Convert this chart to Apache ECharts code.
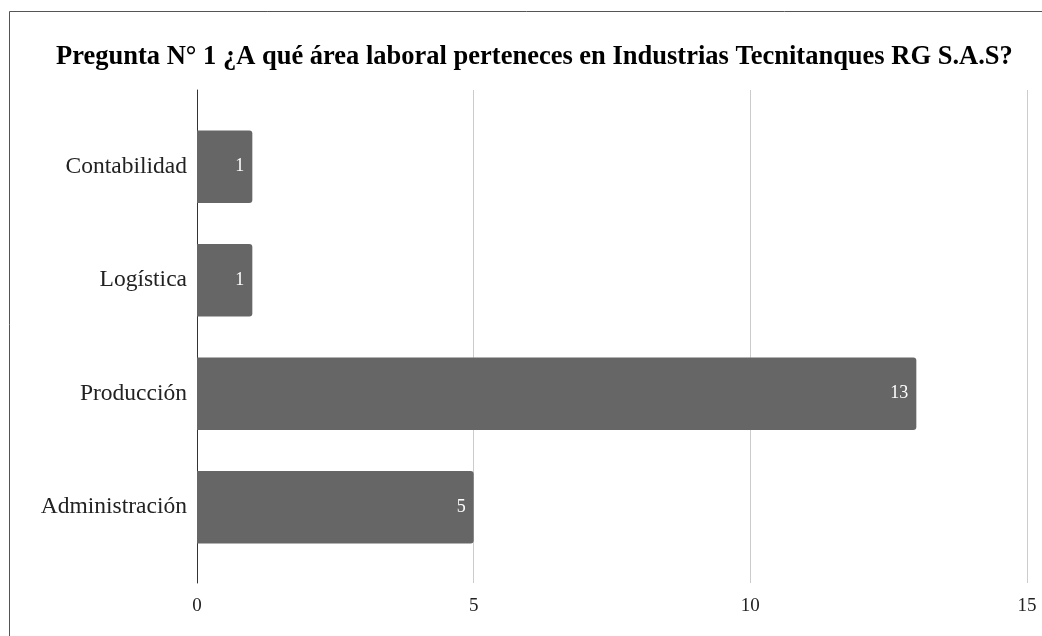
<!DOCTYPE html>
<html>
<head>
<meta charset="utf-8">
<script src="https://cdn.jsdelivr.net/npm/echarts@6/dist/echarts.min.js"></script>
<style>
html,body{margin:0;padding:0;background:#fff;}
#chart{width:1042px;height:636px;}
</style>
</head>
<body>
<div id="chart"></div>
<script>
const titleText = 'Pregunta N° 1 ¿A qué área laboral perteneces en Industrias Tecnitanques RG S.A.S?';
const categories = ['Contabilidad', 'Logística', 'Producción', 'Administración'];
const values = [1, 1, 13, 5];
const xTicks = [0, 5, 10, 15];

const serif = '"Liberation Serif", "DejaVu Serif", serif';
const xMin = xTicks[0], xMax = xTicks[xTicks.length - 1];
const chart = echarts.init(document.getElementById('chart'));
chart.setOption({
  backgroundColor: '#fff',
  animation: false,
  title: {
    text: titleText,
    left: 51,
    top: 39,
    textStyle: { fontFamily: serif, fontSize: 26.5, fontWeight: 'bold', color: '#000' }
  },
  graphic: [{
    type: 'rect',
    shape: { x: 9.5, y: 11.5, width: 1100, height: 700 },
    style: { fill: 'none', stroke: '#555', lineWidth: 1 },
    silent: true
  }],
  grid: [
    { left: 197, right: 15, top: 110, bottom: 72, containLabel: false },
    { left: 197, right: 15, top: 90, bottom: 53, containLabel: false }
  ],
  xAxis: [{
    gridIndex: 0,
    type: 'value', min: xMin, max: xMax, interval: 5,
    axisLine: { show: false }, axisTick: { show: false },
    axisLabel: { show: false }, splitLine: { show: false }
  }, {
    gridIndex: 1,
    type: 'value', min: xMin, max: xMax, interval: 5,
    axisLine: { show: false },
    axisTick: { show: false },
    axisLabel: { fontFamily: serif, fontSize: 19, color: '#222', margin: 14 },
    splitLine: { show: true, lineStyle: { color: '#ccc', width: 1 } }
  }],
  yAxis: [{
    gridIndex: 0,
    type: 'category',
    data: categories,
    inverse: true,
    axisLine: { show: false },
    axisTick: { show: false },
    axisLabel: { fontFamily: serif, fontSize: 23.5, color: '#222', margin: 10 }
  }, {
    gridIndex: 1,
    type: 'value', min: 0, max: 1,
    axisLine: { show: true, lineStyle: { color: '#333', width: 1 } },
    axisTick: { show: false }, axisLabel: { show: false }, splitLine: { show: false }
  }],
  series: [{
    type: 'bar',
    xAxisIndex: 0,
    yAxisIndex: 0,
    data: values,
    barWidth: '64%',
    itemStyle: { color: '#666666', borderRadius: [0, 3, 3, 0] },
    label: {
      show: true,
      position: 'insideRight',
      distance: 8,
      color: '#fff',
      fontFamily: serif,
      fontSize: 18
    }
  }]
});
</script>
</body>
</html>
